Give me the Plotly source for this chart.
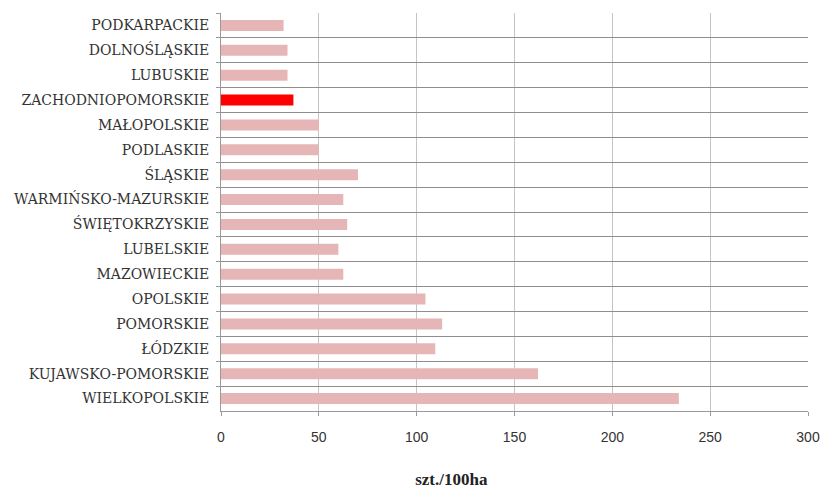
import plotly.graph_objects as go

# Voivodeships, listed top to bottom as displayed
regions = [
    "PODKARPACKIE", "DOLNOŚLĄSKIE", "LUBUSKIE", "ZACHODNIOPOMORSKIE",
    "MAŁOPOLSKIE", "PODLASKIE", "ŚLĄSKIE", "WARMIŃSKO-MAZURSKIE",
    "ŚWIĘTOKRZYSKIE", "LUBELSKIE", "MAZOWIECKIE", "OPOLSKIE",
    "POMORSKIE", "ŁÓDZKIE", "KUJAWSKO-POMORSKIE", "WIELKOPOLSKIE",
]
# Density, pcs per 100 ha
density = [32, 34, 34, 37, 50, 50, 70, 62.5, 64.5, 60, 62.5, 104.5, 113, 109.5, 162, 234]
x_ticks = [0, 50, 100, 150, 200, 250, 300]
unit_label = "szt./100ha"
highlight = "ZACHODNIOPOMORSKIE"

base_color = "#E6B6B7"
highlight_color = "#FF0000"
colors = [highlight_color if r == highlight else base_color for r in regions]

fig = go.Figure(
    go.Bar(
        x=density,
        y=regions,
        orientation="h",
        marker=dict(color=colors, line=dict(width=0)),
        hoverinfo="x+y",
    )
)

fig.update_layout(
    width=822,
    height=491,
    margin=dict(l=221, r=14, t=13, b=80, autoexpand=False),
    paper_bgcolor="white",
    plot_bgcolor="white",
    bargap=0.56,
    showlegend=False,
    # unit label below the value axis
    title=dict(
        text=f"<b>{unit_label}</b>",
        xref="container",
        yref="container",
        x=0.549,
        xanchor="center",
        y=0.024,
        yanchor="middle",
        font=dict(family="Liberation Serif, Times New Roman, serif", size=17, color="#222222"),
    ),
    xaxis=dict(
        range=[0, 300],
        tickvals=x_ticks,
        ticktext=[str(v) for v in x_ticks],
        automargin=False,
        showgrid=True,
        gridcolor="#C4C4C4",
        gridwidth=1,
        zeroline=False,
        showline=True,
        linecolor="#9A9A9A",
        linewidth=1,
        ticks="outside",
        ticklen=4,
        tickcolor="#9A9A9A",
        ticklabelstandoff=9,
        tickfont=dict(family="Liberation Sans Narrow, Arial Narrow, sans-serif", size=14, color="#333333"),
    ),
    yaxis=dict(
        autorange="reversed",
        automargin=False,
        tickson="boundaries",
        showgrid=True,
        gridcolor="#8E8E8E",
        gridwidth=1,
        showline=True,
        linecolor="#9A9A9A",
        linewidth=1,
        ticks="outside",
        ticklen=4,
        tickcolor="#9A9A9A",
        ticklabelstandoff=8,
        tickfont=dict(family="DejaVu Serif, serif", size=14, color="#333333"),
    ),
)

fig.write_html("out.html")
